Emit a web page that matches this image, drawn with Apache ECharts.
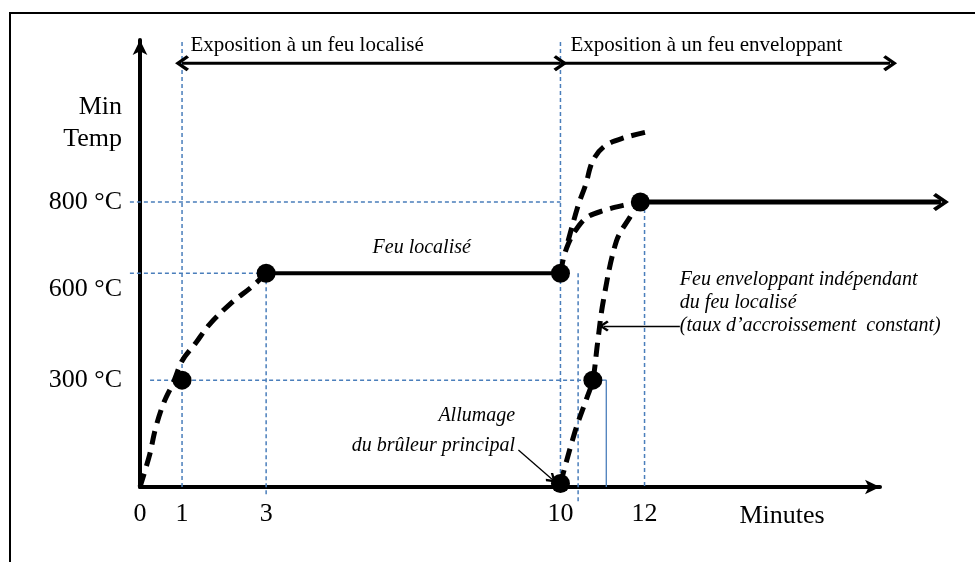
<!DOCTYPE html>
<html><head><meta charset="utf-8">
<script src="https://cdn.jsdelivr.net/npm/echarts@6/dist/echarts.min.js"></script>
<style>
html,body{margin:0;padding:0;background:#fff;}
body{width:975px;height:562px;overflow:hidden;position:relative;}
#frame{position:absolute;left:9px;top:12px;width:2000px;height:2000px;border-left:2.5px solid #000;border-top:2.5px solid #000;}
#c{position:absolute;left:0;top:0;width:975px;height:562px;}
</style></head>
<body><div id="frame"></div><div id="c"></div>
<script>
// ---- data (minutes, °C) ----
const xTicks = [0, 1, 3, 10, 12];
const yTicks = [300, 600, 800];
const keyPoints = [[1, 300], [3, 600], [10, 600], [10, 10], [10.77, 300], [11.9, 800]];
const riseLocal = [[0,0],[0.23,91],[0.37,165],[0.57,238],[0.8,295],[1.0,354],[1.33,405],[1.65,456],[2.2,520],[2.63,559],[3,600]];
const plateauLocal = [[3,600],[10,600]];
const localContinued = [[10.18,690],[10.42,790],[10.6,849],[10.77,916],[11.05,957],[11.5,980],[12.18,1000]];
const transition = [[10,600],[10.07,641],[10.18,681],[10.35,719],[10.63,757],[11.05,777],[11.5,791],[11.9,800]];
const enveloping = [[10,10],[10.35,157],[10.63,251],[10.77,300],[10.88,402],[11.02,523],[11.33,690],[11.65,757],[11.9,800]];
const plateauEnveloping = [[11.9,800],[19.05,800]];
const guidesDashed = [
  [[-0.24,800],[10,800]], [[-0.24,600],[3,600]], [[0.24,300],[10.77,300]],
  [[1,0],[1,1255]], [[10,0],[10,1255]], [[3,600],[3,-28]],
  [[10.42,600],[10.42,-45]], [[12,800],[12,0]]
];
const guideSolid = [[10.77,300],[11.09,300],[11.09,0]];
const phaseArrows = [
  {from: [1, 1190], to: [10, 1190], both: true},
  {from: [10, 1190], to: [17.84, 1190], both: false}
];
const notes = [
  {at: [1.2, 1241], text: 'Exposition à un feu localisé', pos: 'right', align: 'left', style: 'normal', size: 21, lh: 24},
  {at: [10.24, 1241], text: 'Exposition à un feu enveloppant', pos: 'right', align: 'left', style: 'normal', size: 21, lh: 24},
  {at: [6.7, 671], text: 'Feu localisé', pos: 'inside', align: 'center', style: 'italic', size: 20, lh: 24},
  {at: [12.84, 516], text: 'Feu enveloppant indépendant\ndu feu localisé\n(taux d’accroissement  constant)', pos: 'right', align: 'left', style: 'italic', size: 20, lh: 23},
  {at: [8.92, 157], text: 'Allumage\ndu brûleur principal', pos: 'left', align: 'right', style: 'italic', size: 20, lh: 30}
];
const pointerArrows = [ [[12.84,452],[11.03,452]], [[9.0,104],[9.8,22]] ];

// ---- layout ----
const FONT = 'Liberation Serif';
const BLUE = '#4A7EBB';
const chevron = 'path://M10,0 L20,14 L17,17 L10,7 L3,17 L0,14 Z';
const W = 975, H = 562;
const G = {left: 140, right: 95, top: 40, bottom: 75};
const X = {min: 0, max: 17.6}, Y = {min: 0, max: 1255};
const EX = {min: -0.5, max: 19.4}, EY = {min: -60, max: 1255};
const sx = (W - G.left - G.right) / (X.max - X.min);
const sy = (H - G.top - G.bottom) / (Y.max - Y.min);
const G2 = {
  left: G.left - (X.min - EX.min) * sx,
  right: W - (G.left + (EX.max - X.min) * sx),
  top: G.top - (EY.max - Y.max) * sy,
  bottom: G.bottom - (Y.min - EY.min) * sy
};

const chart = echarts.init(document.getElementById('c'), null, {renderer: 'canvas'});
const onData = {xAxisIndex: 1, yAxisIndex: 1, clip: false};
const series = [];
guidesDashed.forEach(g => series.push(Object.assign({
  type: 'line', data: g, symbol: 'none', silent: true, z: 1,
  lineStyle: {color: BLUE, width: 1.5, type: [4, 3]}
}, onData)));
series.push(Object.assign({type: 'line', data: guideSolid, symbol: 'none', silent: true, z: 1,
  lineStyle: {color: BLUE, width: 1.3}}, onData));

const dashed = {color: '#000', width: 5, type: [14, 8], cap: 'butt'};
[riseLocal, localContinued, transition, enveloping].forEach(d => series.push(Object.assign({
  type: 'line', data: d, symbol: 'none', smooth: 0.35, z: 3, lineStyle: dashed
}, onData)));

series.push(Object.assign({type: 'line', data: plateauLocal, symbol: 'none', z: 3,
  lineStyle: {color: '#000', width: 4}}, onData));

const pe = plateauEnveloping.map((p, i) => i === plateauEnveloping.length - 1
  ? {value: p, symbol: chevron, symbolSize: [18, 16], symbolRotate: -90}
  : {value: p, symbol: 'none'});
series.push(Object.assign({type: 'line', data: pe, showSymbol: true, z: 3,
  itemStyle: {color: '#000', opacity: 1}, lineStyle: {color: '#000', width: 5}}, onData));

phaseArrows.forEach(a => series.push(Object.assign({
  type: 'line', showSymbol: true, z: 3, silent: true,
  data: [
    a.both ? {value: a.from, symbol: chevron, symbolSize: [16, 14], symbolRotate: 90} : {value: a.from, symbol: 'none'},
    {value: a.to, symbol: chevron, symbolSize: [16, 14], symbolRotate: -90}
  ],
  itemStyle: {color: '#000', opacity: 1}, lineStyle: {color: '#000', width: 3}
}, onData)));

pointerArrows.forEach(p => {
  series.push(Object.assign({type: 'line', z: 4, silent: true,
    data: [p[0]], symbol: 'none',
    lineStyle: {width: 0},
    markLine: {silent: true, symbol: ['none', chevron], symbolSize: [11, 10],
      label: {show: false}, lineStyle: {color: '#000', width: 1.3, type: 'solid'},
      data: [[{coord: p[0]}, {coord: p[1]}]]}
  }, onData));
});

series.push(Object.assign({type: 'scatter', data: keyPoints, symbolSize: 19, z: 5,
  itemStyle: {color: '#000', opacity: 1}}, onData));

series.push(Object.assign({type: 'scatter', symbolSize: 0, z: 6, silent: true,
  itemStyle: {opacity: 1, color: '#000'},
  data: notes.map(n => ({value: n.at, label: {
    show: true, formatter: n.text, position: n.pos, distance: 0, align: n.align,
    fontFamily: FONT, fontStyle: n.style, fontSize: n.size, lineHeight: n.lh, color: '#000', opacity: 1
  }}))
}, onData));

chart.setOption({
  animation: false,
  backgroundColor: 'transparent',
  grid: [
    {left: G.left, right: G.right, top: G.top, bottom: G.bottom},
    {left: G2.left, right: G2.right, top: G2.top, bottom: G2.bottom}
  ],
  xAxis: [{
    gridIndex: 0, type: 'value', min: X.min, max: X.max,
    name: 'Minutes', nameLocation: 'end', nameGap: -98,
    nameTextStyle: {fontFamily: FONT, fontSize: 26, color: '#000', align: 'center', verticalAlign: 'top', padding: [16, 0, 0, 0]},
    axisLine: {show: true, symbol: ['none', 'arrow'], symbolSize: [11, 15], lineStyle: {color: '#000', width: 4}},
    axisTick: {show: false}, splitLine: {show: false},
    axisLabel: {customValues: xTicks, margin: 14, fontFamily: FONT, fontSize: 26, color: '#000'}
  }, {
    gridIndex: 1, type: 'value', min: EX.min, max: EX.max, show: false
  }],
  yAxis: [{
    gridIndex: 0, type: 'value', min: Y.min, max: Y.max,
    name: 'Min\nTemp', nameLocation: 'end', nameGap: -83,
    nameTextStyle: {fontFamily: FONT, fontSize: 26, lineHeight: 32, color: '#000', align: 'right', verticalAlign: 'middle', padding: [0, 18, 0, 0]},
    axisLine: {show: true, symbol: ['none', 'arrow'], symbolSize: [11, 15], lineStyle: {color: '#000', width: 4}},
    axisTick: {show: false}, splitLine: {show: false},
    axisLabel: {customValues: yTicks, margin: 18, fontFamily: FONT, fontSize: 26, color: '#000',
      formatter: v => v === 600 ? '{low|' + v + ' °C}' : v + ' °C',
      rich: {low: {fontFamily: FONT, fontSize: 26, color: '#000', padding: [32, 0, 0, 0]}}}
  }, {
    gridIndex: 1, type: 'value', min: EY.min, max: EY.max, show: false
  }],
  series: series
});
</script>
</body></html>
